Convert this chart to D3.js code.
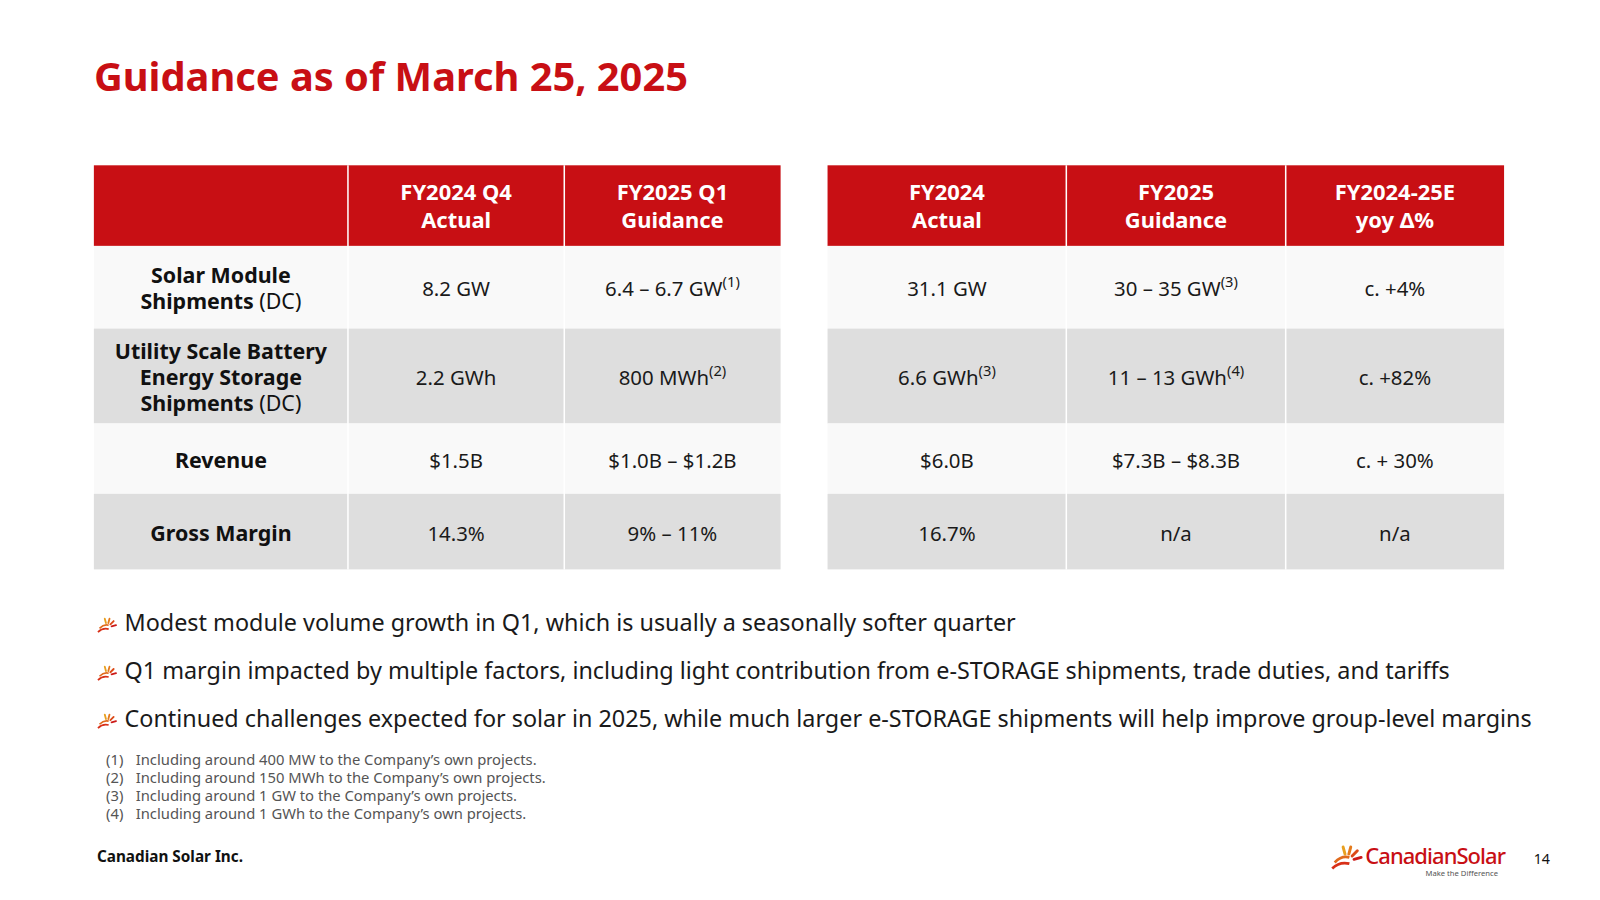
<!DOCTYPE html>
<html><head><meta charset="utf-8">
<script src="https://cdn.jsdelivr.net/npm/d3@7"></script>
<style>body{margin:0;background:#fff}svg{font-family:"Noto Sans",sans-serif}</style>
</head><body><svg id="c" width="1600" height="900"></svg>
<script>
// table content
const rowLabels = [
  [["Solar Module", ""], ["Shipments", " (DC)"]],
  [["Utility Scale Battery", ""], ["Energy Storage", ""], ["Shipments", " (DC)"]],
  [["Revenue", ""]],
  [["Gross Margin", ""]]
];
const leftHeaders = [["FY2024 Q4", "Actual"], ["FY2025 Q1", "Guidance"]];
const rightHeaders = [["FY2024", "Actual"], ["FY2025", "Guidance"], ["FY2024-25E", "yoy \u0394%"]];
// cells: [text, superscript]
const leftValues = [
  [["8.2 GW", ""], ["6.4 \u2013 6.7 GW", "(1)"]],
  [["2.2 GWh", ""], ["800 MWh", "(2)"]],
  [["$1.5B", ""], ["$1.0B \u2013 $1.2B", ""]],
  [["14.3%", ""], ["9% \u2013 11%", ""]]
];
const rightValues = [
  [["31.1 GW", ""], ["30 \u2013 35 GW", "(3)"], ["c. +4%", ""]],
  [["6.6 GWh", "(3)"], ["11 \u2013 13 GWh", "(4)"], ["c. +82%", ""]],
  [["$6.0B", ""], ["$7.3B \u2013 $8.3B", ""], ["c. + 30%", ""]],
  [["16.7%", ""], ["n/a", ""], ["n/a", ""]]
];
const bullets = [
  "Modest module volume growth in Q1, which is usually a seasonally softer quarter",
  "Q1 margin impacted by multiple factors, including light contribution from e-STORAGE shipments, trade duties, and tariffs",
  "Continued challenges expected for solar in 2025, while much larger e-STORAGE shipments will help improve group-level margins"
];
const footnotes = [
  "Including around 400 MW to the Company\u2019s own projects.",
  "Including around 150 MWh to the Company\u2019s own projects.",
  "Including around 1 GW to the Company\u2019s own projects.",
  "Including around 1 GWh to the Company\u2019s own projects."
];

const RED = "#c80f14";
const root = d3.select("#c");
const svg = root.append("g").attr("transform", "scale(1.0204)");

svg.append("text").attr("x", 92).attr("y", 89).attr("fill", RED)
  .attr("font-size", 39).attr("font-weight", 700).text("Guidance as of March 25, 2025");

// row boundaries (layout)
const rowEdges = [241, 322, 415, 484, 558];
const headTop = 162;
const rowFill = i => i % 2 ? "#dedede" : "#f9f9f9";

function cellText(g, x, yc, parts, size, weight, fill) {
  const t = g.append("text").attr("x", x).attr("y", yc).attr("text-anchor", "middle")
    .attr("dominant-baseline", "central").attr("font-size", size).attr("fill", fill);
  t.append("tspan").attr("font-weight", weight).text(parts[0]);
  if (parts[1]) t.append("tspan").attr("font-size", size * 0.72).attr("dy", -7).attr("font-weight", 400).text(parts[1]);
}

function multiLine(g, x, yc, lines, size, lh, fill, bold) {
  const y0 = yc - (lines.length - 1) * lh / 2;
  lines.forEach((ln, k) => {
    const t = g.append("text").attr("x", x).attr("y", y0 + k * lh).attr("text-anchor", "middle")
      .attr("dominant-baseline", "central").attr("font-size", size).attr("fill", fill);
    if (Array.isArray(ln)) {
      t.append("tspan").attr("font-weight", 700).text(ln[0]);
      if (ln[1]) t.append("tspan").attr("font-weight", 400).text(ln[1]);
    } else t.attr("font-weight", bold ? 700 : 400).text(ln);
  });
}

function table(edges, headers, values, labels) {
  const x = d3.scaleOrdinal().domain(d3.range(edges.length)).range(edges);
  const x0 = edges[0], x1 = edges[edges.length - 1];
  const nc = edges.length - 1;
  const off = labels ? 1 : 0;
  const g = svg.append("g");
  g.append("rect").attr("x", x0).attr("y", headTop).attr("width", x1 - x0)
    .attr("height", rowEdges[0] - headTop).attr("fill", RED);
  values.forEach((row, i) => {
    const y0 = rowEdges[i], y1 = rowEdges[i + 1], yc = (y0 + y1) / 2;
    g.append("rect").attr("x", x0).attr("y", y0).attr("width", x1 - x0).attr("height", y1 - y0).attr("fill", rowFill(i));
    if (labels) multiLine(g, (x(0) + x(1)) / 2, yc, labels[i], 21, 25.5, "#111");
    row.forEach((v, j) => cellText(g, (x(j + off) + x(j + off + 1)) / 2, yc + 1, v, 20, 400, "#1a1a1a"));
  });
  headers.forEach((h, j) => multiLine(g, (x(j + off) + x(j + off + 1)) / 2, (headTop + rowEdges[0]) / 2, h, 21.5, 27, "#fff", true));
  d3.range(1, nc).forEach(j => g.append("line").attr("x1", x(j)).attr("x2", x(j)).attr("y1", headTop).attr("y2", rowEdges[4])
    .attr("stroke", "#fff").attr("stroke-width", 1.5));
}

table([92, 341, 553, 765], leftHeaders, leftValues, rowLabels);
table([811, 1045, 1260, 1474], rightHeaders, rightValues, null);

// sun icon: arcs at bottom-left with rays fanning up-right
function sun(g, x, y, k) {
  const s = g.append("g").attr("transform", `translate(${x},${y}) scale(${k})`);
  const cols = ["#e8a020", "#e47a1c", "#dc4a18", "#cc1a18"];
  [105, 75, 45, 15].forEach((a, i) => {
    const r = a * Math.PI / 180;
    s.append("line").attr("x1", 6 * Math.cos(r)).attr("y1", -6 * Math.sin(r))
      .attr("x2", 12 * Math.cos(r)).attr("y2", -12 * Math.sin(r))
      .attr("stroke", cols[i]).attr("stroke-width", 2.4).attr("stroke-linecap", "round");
  });
  s.append("path").attr("d", "M-10,1 Q-4,-5 2,-3").attr("fill", "none").attr("stroke", "#e06a1c").attr("stroke-width", 2.2);
  s.append("path").attr("d", "M-12,6 Q-6,0 2,2").attr("fill", "none").attr("stroke", "#d83018").attr("stroke-width", 2.2);
  return s;
}

bullets.forEach((b, i) => {
  const y = 610 + i * 47;
  sun(svg, 105, y + 5, 0.75);
  svg.append("text").attr("x", 122).attr("y", y).attr("dominant-baseline", "central")
    .attr("font-size", 22.9).attr("fill", "#1a1a1a").text(b);
});

footnotes.forEach((f, i) => {
  const y = 744 + i * 17.6;
  svg.append("text").attr("x", 104).attr("y", y).attr("dominant-baseline", "central")
    .attr("font-size", 14.5).attr("fill", "#555").text(`(${i + 1})`);
  svg.append("text").attr("x", 133).attr("y", y).attr("dominant-baseline", "central")
    .attr("font-size", 14.5).attr("fill", "#555").text(f);
});

svg.append("text").attr("x", 95).attr("y", 839).attr("dominant-baseline", "central")
  .attr("font-size", 15).attr("font-weight", 700).attr("fill", "#111").text("Canadian Solar Inc.");
svg.append("text").attr("x", 1503).attr("y", 841).attr("dominant-baseline", "central")
  .attr("font-size", 14).attr("fill", "#111").text("14");

// logo
sun(svg, 1320, 844, 1.2);
svg.append("text").attr("x", 1338).attr("y", 838).attr("dominant-baseline", "central")
  .attr("font-size", 21.5).attr("font-weight", 500).attr("fill", RED).attr("letter-spacing", -0.9).text("CanadianSolar");
svg.append("text").attr("x", 1397).attr("y", 856).attr("dominant-baseline", "central")
  .attr("font-size", 7.5).attr("fill", "#555").text("Make the Difference");
</script></body></html>
